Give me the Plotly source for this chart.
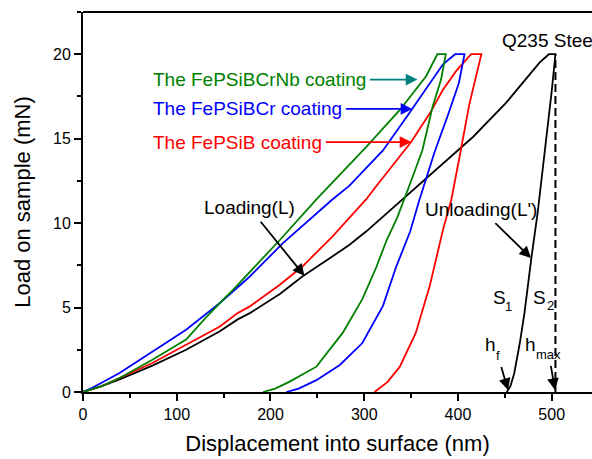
import plotly.graph_objects as go

# ---- data ----
steel_load_x = [0, 20, 39, 74, 110, 146, 165, 178, 210, 234, 260, 284, 302, 341, 380, 416, 451, 487, 497, 504]
steel_load_y = [0, 0.35, 0.75, 1.56, 2.5, 3.6, 4.3, 4.67, 5.8, 6.84, 7.8, 8.7, 9.5, 11.4, 13.35, 15.1, 17.1, 19.5, 20, 20]
steel_unload_x = [504, 500, 494, 485, 478, 471, 466, 460, 456, 452]
steel_unload_y = [20, 17.8, 14.9, 10.6, 7.8, 4.7, 2.9, 1.1, 0.35, 0]

b_load_x = [0, 20, 39, 74, 110, 146, 165, 178, 210, 234, 266, 302, 313, 350, 370, 384, 398, 414, 425]
b_load_y = [0, 0.35, 0.83, 1.72, 2.8, 3.88, 4.67, 5.07, 6.35, 7.43, 9.2, 11.4, 12.2, 14.8, 16.5, 17.9, 19.0, 20, 20]
b_unload_x = [425, 418, 412, 403, 393, 384, 370, 355, 338, 325, 311]
b_unload_y = [20, 18.3, 17, 14.3, 11.4, 9.6, 6.3, 3.5, 1.5, 0.6, 0]

cr_load_x = [0, 10, 39, 74, 110, 146, 178, 213, 266, 284, 320, 348, 370, 384, 397, 407]
cr_load_y = [0, 0.25, 1.12, 2.4, 3.69, 5.27, 6.84, 8.8, 11.4, 12.2, 14.3, 16.5, 18.3, 19.4, 20, 20]
cr_unload_x = [407, 401, 390, 375, 359, 349, 334, 320, 298, 274, 249, 230, 217]
cr_unload_y = [20, 18.3, 16.5, 14.2, 11.4, 9.5, 7.4, 5.1, 2.9, 1.6, 0.7, 0.2, 0]

nb_load_x = [0, 20, 39, 74, 110, 131, 153, 160, 210, 249, 302, 338, 366, 378, 387]
nb_load_y = [0, 0.35, 0.83, 1.91, 3.1, 4.4, 5.66, 6.05, 9.0, 11.4, 14.5, 16.7, 18.7, 20, 20]
nb_unload_x = [387, 382, 373, 362, 348, 335, 324, 313, 298, 277, 249, 220, 205, 192]
nb_unload_y = [20, 18.5, 16.9, 14.3, 12.2, 10.3, 9.0, 7.4, 5.5, 3.5, 1.5, 0.6, 0.2, 0]

hmax_x = [504, 504]
hmax_y = [0, 20]

x_ticks = [0, 100, 200, 300, 400, 500]
y_ticks = [0, 5, 10, 15, 20]

FONT = "Arial, Liberation Sans, sans-serif"

fig = go.Figure()

def add_curve(lx, ly, ux, uy, color):
    fig.add_trace(go.Scatter(x=lx + ux[1:], y=ly + uy[1:], mode="lines",
                             line=dict(color=color, width=1.8), showlegend=False,
                             hoverinfo="skip"))

add_curve(steel_load_x, steel_load_y, steel_unload_x, steel_unload_y, "black")
add_curve(b_load_x, b_load_y, b_unload_x, b_unload_y, "#ff0000")
add_curve(cr_load_x, cr_load_y, cr_unload_x, cr_unload_y, "#0000ff")
add_curve(nb_load_x, nb_load_y, nb_unload_x, nb_unload_y, "#008000")

fig.add_trace(go.Scatter(x=hmax_x, y=hmax_y, mode="lines",
                         line=dict(color="black", width=2, dash="8px,4px"),
                         showlegend=False, hoverinfo="skip"))

ann = []
def label(text, x, y, color="black", size=19, xanchor="left"):
    ann.append(dict(text=text, x=x, y=y, xref="x", yref="y", showarrow=False,
                    xanchor=xanchor, yanchor="middle",
                    font=dict(family=FONT, size=size, color=color)))

def arrow_label(text, x, y, ax, ay, color="black", arrowcolor=None, size=19, xanchor="center"):
    ann.append(dict(text=text, x=x, y=y, xref="x", yref="y", ax=ax, ay=ay,
                    showarrow=True, arrowhead=2, arrowsize=1.3, arrowwidth=1.8,
                    arrowcolor=arrowcolor or color, xanchor=xanchor, borderpad=3,
                    font=dict(family=FONT, size=size, color=color)))

arrow_label("The FePSiBCrNb coating", 356.8, 18.5, -268, 0, "#008000", "#008080", xanchor="left")
arrow_label("The FePSiBCr coating", 351.4, 16.76, -263, 0, "#0000ff", xanchor="left")
arrow_label("The FePSiB coating", 350.3, 14.8, -262, 0, "#ff0000", xanchor="left")

arrow_label("Loading(L)", 236.2, 6.88, -55, -68)
arrow_label("Unloading(L')", 478, 7.93, -50, -49)
label("Q235 Stee", 445.3, 20.79)

# S1, S2, hf, hmax labels with separate (smaller, lowered) subscripts
label("S", 443.8, 5.62, xanchor="center")
label("1", 454.2, 5.05, size=13, xanchor="center")
label("S", 487.5, 5.62, xanchor="center")
label("2", 498.4, 5.1, size=13, xanchor="center")
label("h", 434.2, 2.8, xanchor="center")
arrow_label("f", 453.4, 0.12, -10, -34, size=13)
label("h", 476.9, 2.8, xanchor="center")
arrow_label("max", 503.5, 0.12, -6, -35, size=13)

fig.update_layout(
    width=592, height=459,
    margin=dict(l=83, r=0, t=12, b=67),
    paper_bgcolor="white", plot_bgcolor="white",
    font=dict(family=FONT, color="black", size=16),
    annotations=ann,
    shapes=[dict(type="line", xref="paper", yref="paper", x0=0, x1=1, y0=1, y1=1,
                 line=dict(color="black", width=1.8))],
)
fig.update_xaxes(range=[0, 543], tickvals=x_ticks, ticks="outside", ticklen=7,
                 tickwidth=1.5, tickcolor="black", showline=True, linecolor="black",
                 linewidth=1.8, showgrid=False, zeroline=False,
                 minor=dict(dtick=50, ticks="outside", ticklen=4, tickwidth=1.5, tickcolor="black"),
                 tickfont=dict(size=16),
                 title=dict(text="Displacement into surface (nm)", font=dict(size=22), standoff=14))
fig.update_yaxes(range=[0, 22.5], tickvals=y_ticks, ticks="outside", ticklen=7,
                 tickwidth=1.5, tickcolor="black", showline=True, linecolor="black",
                 linewidth=1.8, showgrid=False, zeroline=False,
                 minor=dict(dtick=2.5, ticks="outside", ticklen=4, tickwidth=1.5, tickcolor="black"),
                 tickfont=dict(size=16),
                 title=dict(text="Load on sample (mN)", font=dict(size=22), standoff=16))

fig.write_html("out.html")
